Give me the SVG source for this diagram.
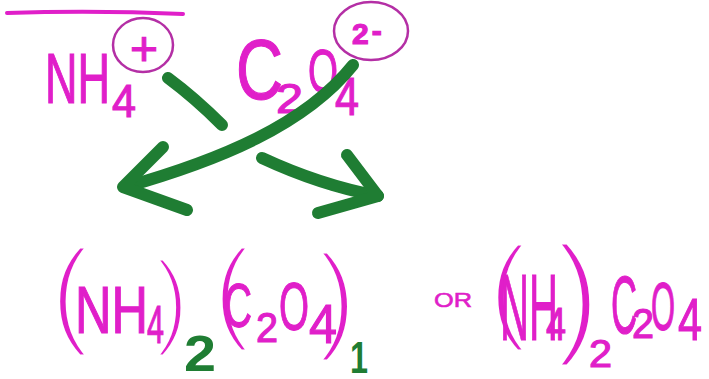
<svg xmlns="http://www.w3.org/2000/svg" width="709" height="379" viewBox="0 0 709 379">
<style>
.m{fill:#e01fc9;font-family:"Liberation Sans",Arial,sans-serif;stroke:#e01fc9;stroke-width:1.2}
.p{fill:#e01fc9;font-family:"Liberation Sans",Arial,sans-serif;stroke:#fff;stroke-width:5;text-anchor:middle}
.g{fill:#1f7d33;font-family:"Liberation Sans",Arial,sans-serif;font-weight:bold}
.ring{fill:none;stroke:#b42fa5;stroke-width:2.5}
.ink{fill:none;stroke:#e01fc9;stroke-width:4;stroke-linecap:round}
.arr{fill:none;stroke:#1f7d33;stroke-width:12;stroke-linecap:round;stroke-linejoin:round}
</style>
<rect width="709" height="379" fill="#fff"/>
<g id="heading-underline">
<path class="ink" d="M7,13 Q95,10 183,14"/>
</g>
<g id="ion-nh4">
<text class="m" x="45" y="103" font-size="71"><tspan textLength="65" lengthAdjust="spacingAndGlyphs">NH</tspan><tspan x="112" y="117" font-size="47" textLength="24" lengthAdjust="spacingAndGlyphs">4</tspan></text>
<ellipse class="ring" cx="143" cy="45" rx="30" ry="27"/>
<text class="m" x="144" y="65" font-size="48" text-anchor="middle">+</text>
</g>
<g id="ion-c2o4">
<text class="m" x="236" y="99" font-size="85"><tspan textLength="47" lengthAdjust="spacingAndGlyphs">C</tspan><tspan x="276" y="113" font-size="42" textLength="27" lengthAdjust="spacingAndGlyphs">2</tspan><tspan x="308" y="92" font-size="61" textLength="30" lengthAdjust="spacingAndGlyphs">O</tspan><tspan x="335" y="115" font-size="53" textLength="24" lengthAdjust="spacingAndGlyphs">4</tspan></text>
<ellipse class="ring" cx="371" cy="31" rx="37" ry="29"/>
<text class="m" x="352" y="44" font-size="30" font-weight="bold">2<tspan dx="3" dy="-3">-</tspan></text>
</g>
<g id="formula-1">
<text class="p" x="70" y="332" font-size="119">(</text>
<text class="p" x="172" y="335" font-size="106">)</text>
<text class="p" x="232" y="328" font-size="114">(</text>
<text class="p" x="337" y="337" font-size="119">)</text>
<text class="m" x="75" y="333" font-size="67"><tspan textLength="73" lengthAdjust="spacingAndGlyphs">NH</tspan><tspan x="147" y="343" font-size="53" textLength="17" lengthAdjust="spacingAndGlyphs">4</tspan><tspan x="224" y="327" font-size="63" textLength="28" lengthAdjust="spacingAndGlyphs">C</tspan><tspan x="256" y="342" font-size="42" textLength="22" lengthAdjust="spacingAndGlyphs">2</tspan><tspan x="279" y="330" font-size="68" textLength="30" lengthAdjust="spacingAndGlyphs">O</tspan><tspan x="309" y="343" font-size="56" textLength="28" lengthAdjust="spacingAndGlyphs">4</tspan></text>
<text class="g" x="184" y="371" font-size="50" textLength="32" lengthAdjust="spacingAndGlyphs">2</text>
<text class="g" x="350" y="373" font-size="44" textLength="18" lengthAdjust="spacingAndGlyphs">1</text>
</g>
<g id="or-label">
<text class="m" x="434" y="307" font-size="21" textLength="38" lengthAdjust="spacingAndGlyphs" style="stroke-width:0.6">OR</text>
</g>
<g id="formula-2">
<text class="p" x="508" y="328" font-size="117">(</text>
<text class="p" x="578" y="339" font-size="133">)</text>
<text class="m" x="500" y="340" font-size="94"><tspan textLength="58" lengthAdjust="spacingAndGlyphs">NH</tspan><tspan x="546" y="340" font-size="46" textLength="20" lengthAdjust="spacingAndGlyphs">4</tspan><tspan x="589" y="367" font-size="38" textLength="23" lengthAdjust="spacingAndGlyphs">2</tspan><tspan x="611" y="333" font-size="81" textLength="26" lengthAdjust="spacingAndGlyphs">C</tspan><tspan x="632" y="338" font-size="43" textLength="22" lengthAdjust="spacingAndGlyphs">2</tspan><tspan x="651" y="330" font-size="68" textLength="24" lengthAdjust="spacingAndGlyphs">O</tspan><tspan x="678" y="340" font-size="60" textLength="24" lengthAdjust="spacingAndGlyphs">4</tspan></text>
</g>
<g id="connectors">
<path class="arr" d="M168,78 Q195,98 222,125"/>
<path class="arr" d="M353,65 C305,125 220,160 125,187"/>
<path class="arr" d="M163,147 L123,187 L187,210"/>
<path class="arr" d="M262,158 Q320,185 378,196"/>
<path class="arr" d="M347,155 L378,196 L318,213"/>
</g>
</svg>
